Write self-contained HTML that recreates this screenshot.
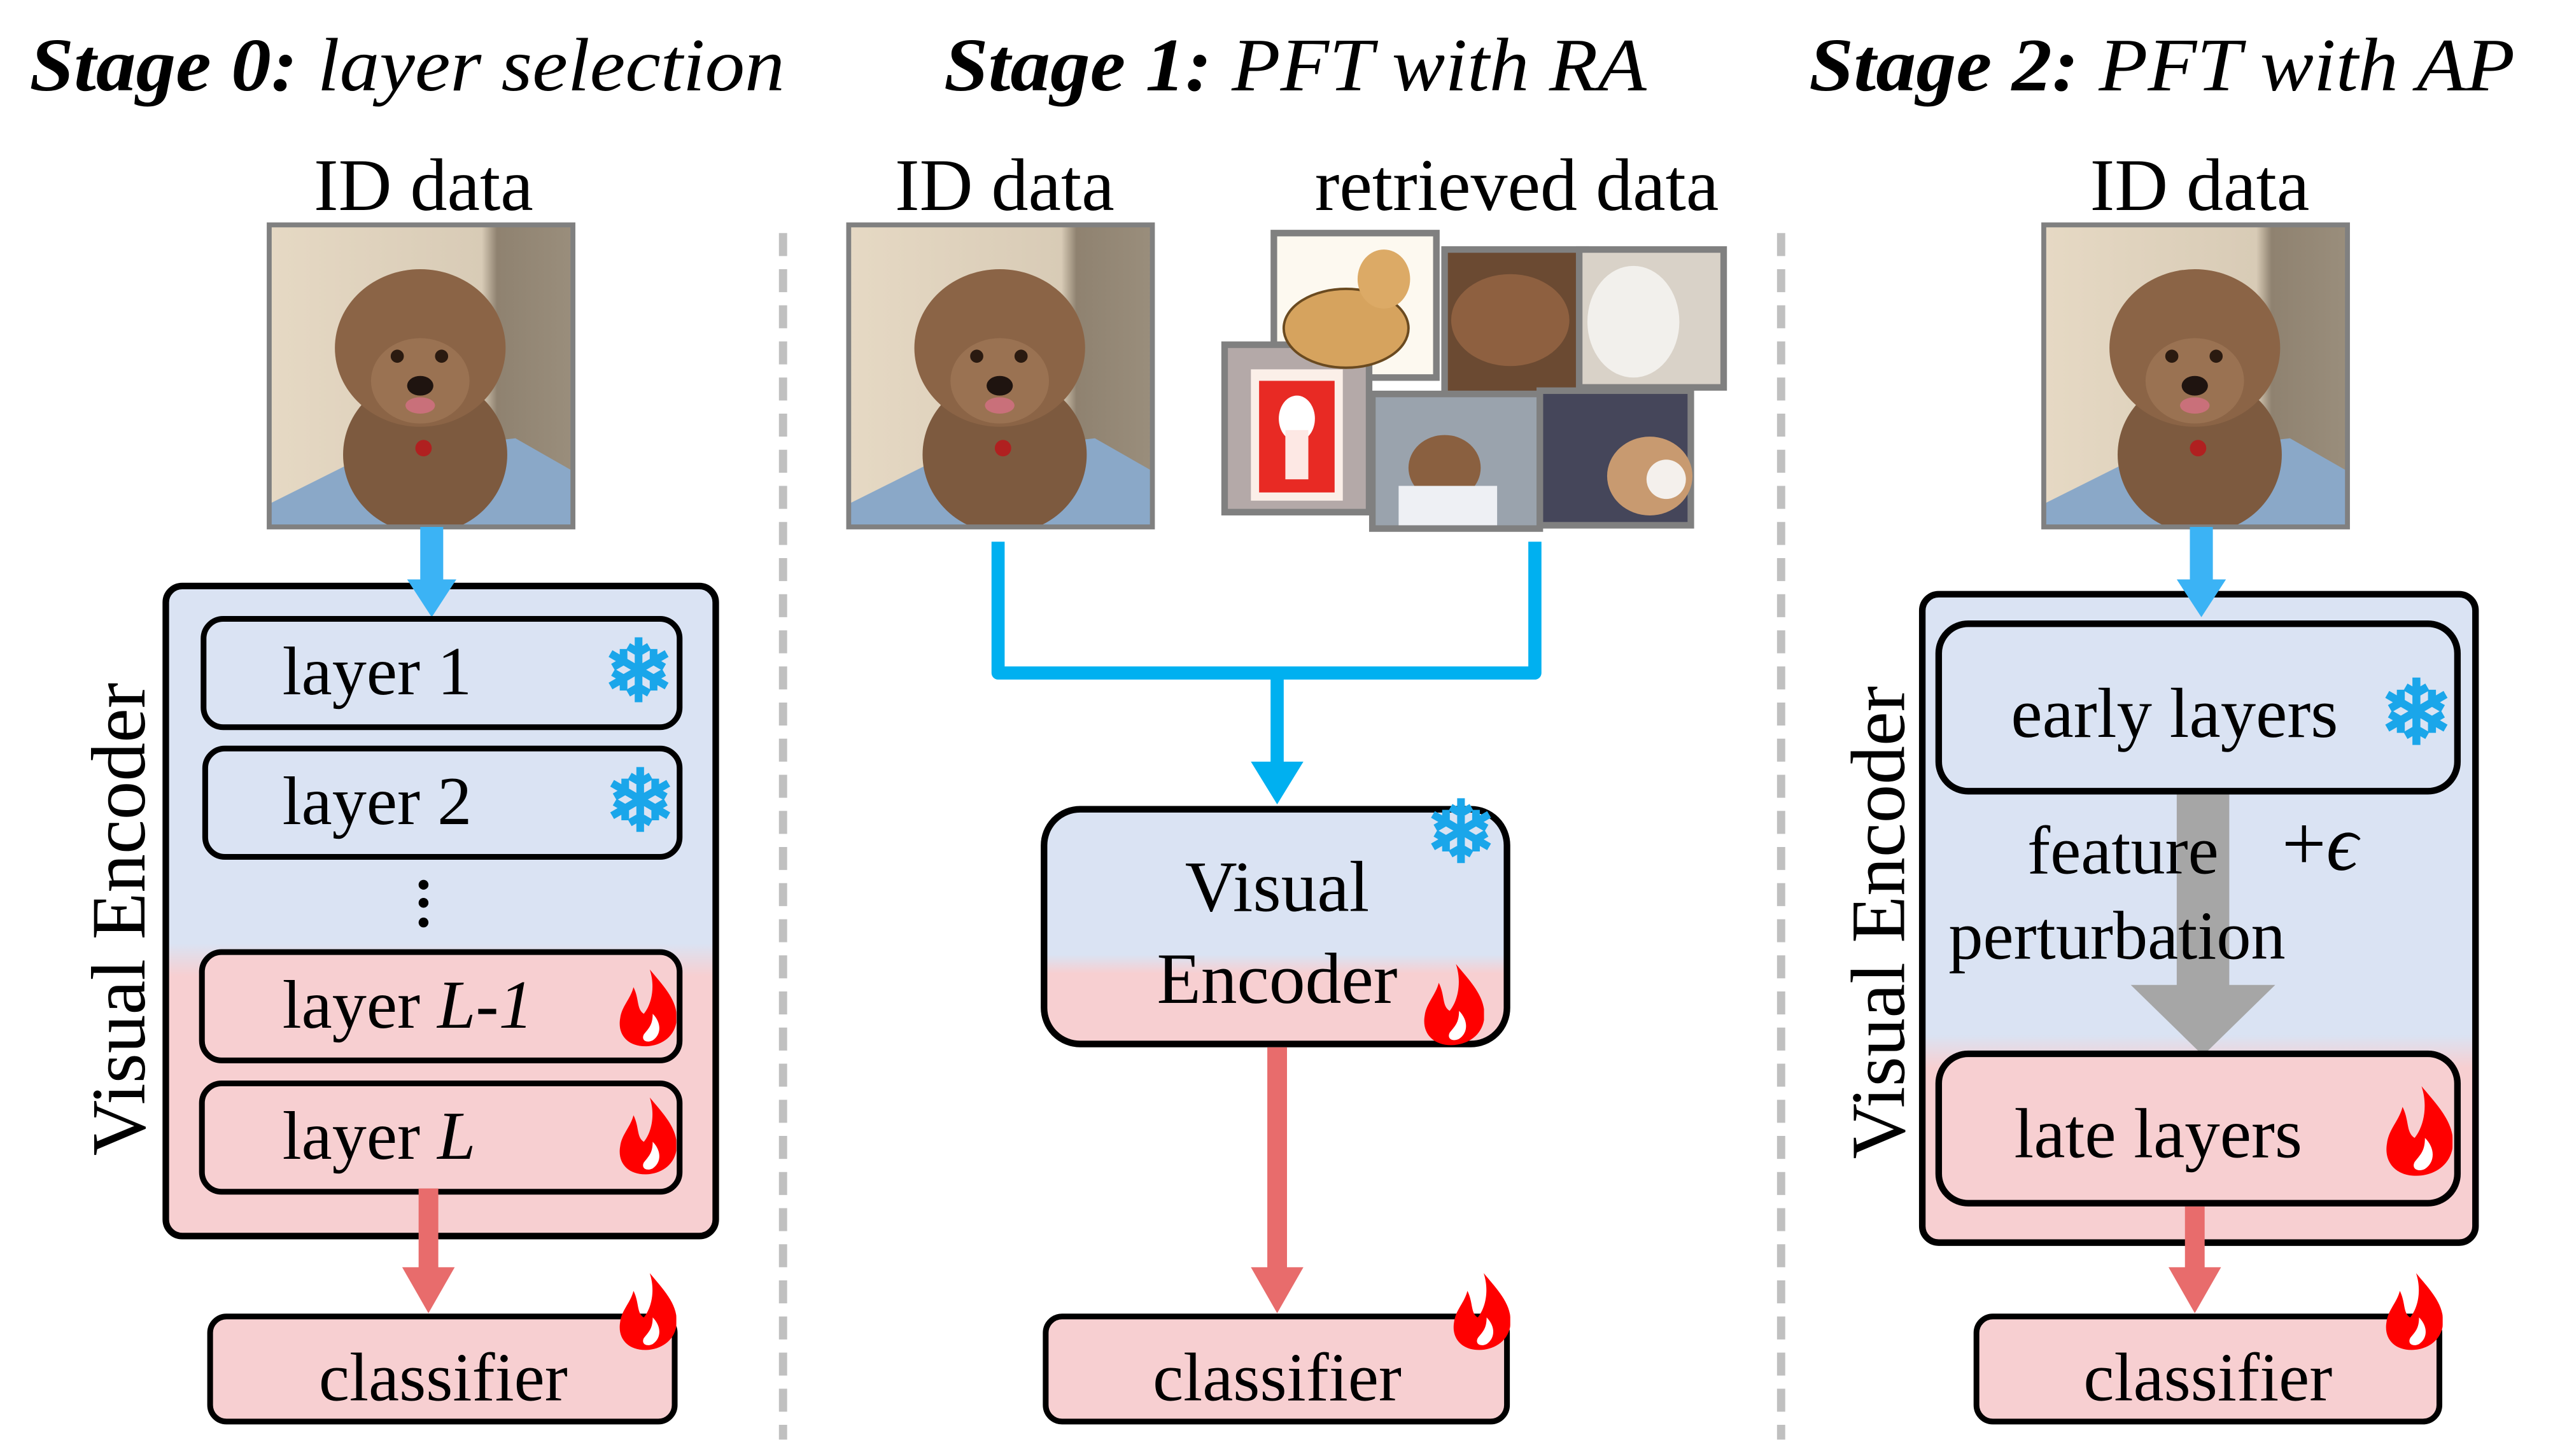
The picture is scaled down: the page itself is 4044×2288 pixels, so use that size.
<!DOCTYPE html>
<html><head><meta charset="utf-8"><style>
html,body{margin:0;padding:0;background:#fff}
svg{display:block}
text{font-family:"Liberation Serif",serif}
</style></head><body>
<svg width="4044" height="2288" viewBox="0 0 1568 887" preserveAspectRatio="none" xmlns="http://www.w3.org/2000/svg">
<defs>
<linearGradient id="enc" x1="0" y1="0" x2="0" y2="1">
<stop offset="0" stop-color="#dae3f3"/><stop offset="0.55" stop-color="#dae3f3"/><stop offset="0.6" stop-color="#f7cfd1"/><stop offset="1" stop-color="#f7cfd1"/></linearGradient>
<linearGradient id="enc2" x1="0" y1="0" x2="0" y2="1">
<stop offset="0" stop-color="#dae3f3"/><stop offset="0.62" stop-color="#dae3f3"/><stop offset="0.7" stop-color="#f7cfd1"/><stop offset="1" stop-color="#f7cfd1"/></linearGradient>
<linearGradient id="enc3" x1="0" y1="0" x2="0" y2="1">
<stop offset="0" stop-color="#dae3f3"/><stop offset="0.68" stop-color="#dae3f3"/><stop offset="0.73" stop-color="#f7cfd1"/><stop offset="1" stop-color="#f7cfd1"/></linearGradient>
<linearGradient id="bg" x1="0" y1="0" x2="1" y2="0">
<stop offset="0" stop-color="#e6d9c4"/><stop offset="0.7" stop-color="#d8cbb6"/><stop offset="0.75" stop-color="#8f8270"/><stop offset="1" stop-color="#9a8e7c"/></linearGradient>
<symbol id="dog" viewBox="0 0 185 184">
<rect width="185" height="184" fill="url(#bg)"/>
<polygon points="0,170 60,140 150,130 185,150 185,184 0,184" fill="#8aa8c8"/>
<ellipse cx="95" cy="140" rx="50" ry="48" fill="#7d5a3f"/>
<ellipse cx="92" cy="75" rx="52" ry="48" fill="#8b6446"/>
<ellipse cx="92" cy="95" rx="30" ry="26" fill="#9a7252"/>
<circle cx="78" cy="80" r="4" fill="#2a1a10"/><circle cx="105" cy="80" r="4" fill="#2a1a10"/>
<ellipse cx="92" cy="98" rx="8" ry="6" fill="#1f1410"/>
<ellipse cx="92" cy="110" rx="9" ry="5" fill="#c9707a"/>
<circle cx="94" cy="136" r="5" fill="#b02020"/>
</symbol>
<symbol id="flame" viewBox="0 0 40 52">
<path d="M22 0 C32 12 42 22 40 36 C38 47 28 52 19 52 C7 52 0 44 2 33 C3 25 9 20 11 12 C15 20 13 27 18 30 C23 24 26 12 22 0Z" fill="#ff0000"/>
<path d="M24 30 C30 36 30 44 24 48 C20 50 16 48 18 44 C21 40 24 38 24 30Z" fill="#fff"/>
</symbol>
</defs>

<text x="18" y="55" font-size="46" font-style="italic" textLength="460" lengthAdjust="spacingAndGlyphs"><tspan font-weight="bold">Stage 0:</tspan> layer selection</text>
<text x="575" y="55" font-size="46" font-style="italic" textLength="428" lengthAdjust="spacingAndGlyphs"><tspan font-weight="bold">Stage 1:</tspan> PFT with RA</text>
<text x="1102" y="55" font-size="46" font-style="italic" textLength="430" lengthAdjust="spacingAndGlyphs"><tspan font-weight="bold">Stage 2:</tspan> PFT with AP</text>

<line x1="477" y1="142" x2="477" y2="877" stroke="#c0c0c0" stroke-width="5" stroke-dasharray="14,8"/>
<line x1="1085" y1="142" x2="1085" y2="877" stroke="#c0c0c0" stroke-width="5" stroke-dasharray="14,8"/>

<!-- Stage 0 -->
<text x="258" y="128" font-size="45" text-anchor="middle">ID data</text>
<use href="#dog" x="164" y="137" width="185" height="184"/>
<rect x="164" y="137" width="185" height="184" fill="none" stroke="#808080" stroke-width="3"/>
<rect x="101" y="357" width="335" height="396" rx="10" fill="url(#enc)" stroke="#000" stroke-width="4"/>
<rect x="256" y="321" width="14" height="34" fill="#3bb3f5"/>
<polygon points="248,353 278,353 263,376" fill="#3bb3f5"/>
<text transform="translate(88,560) rotate(-90)" font-size="47" text-anchor="middle">Visual Encoder</text>
<rect x="124" y="377" width="290" height="66" rx="12" fill="#dae3f3" stroke="#000" stroke-width="3.5"/>
<text x="172" y="423" font-size="42">layer 1</text>
<text x="389" y="427" font-size="52" font-weight="bold" fill="#1aa6ea" text-anchor="middle" font-family="DejaVu Sans">❄</text>
<rect x="125" y="456" width="289" height="66" rx="12" fill="#dae3f3" stroke="#000" stroke-width="3.5"/>
<text x="172" y="502" font-size="42">layer 2</text>
<text x="390" y="506" font-size="52" font-weight="bold" fill="#1aa6ea" text-anchor="middle" font-family="DejaVu Sans">❄</text>
<circle cx="258" cy="539" r="3" fill="#000"/><circle cx="258" cy="550" r="3" fill="#000"/><circle cx="258" cy="562" r="3" fill="#000"/>
<rect x="123" y="580" width="291" height="66" rx="12" fill="#f7cfd1" stroke="#000" stroke-width="3.5"/>
<text x="172" y="626" font-size="42">layer <tspan font-style="italic">L</tspan>-<tspan font-style="italic">1</tspan></text>
<use href="#flame" x="376" y="590" width="36" height="48"/>
<rect x="123" y="660" width="291" height="66" rx="12" fill="#f7cfd1" stroke="#000" stroke-width="3.5"/>
<text x="172" y="706" font-size="42">layer <tspan font-style="italic">L</tspan></text>
<use href="#flame" x="376" y="668" width="36" height="48"/>
<rect x="255" y="724" width="12" height="50" fill="#e86c6c"/>
<polygon points="245,772 277,772 261,800" fill="#e86c6c"/>
<rect x="128" y="802" width="283" height="64" rx="10" fill="#f7cfd1" stroke="#000" stroke-width="3.5"/>
<text x="270" y="853" font-size="42" text-anchor="middle">classifier</text>
<use href="#flame" x="376" y="768" width="36" height="62"/>

<!-- Stage 1 -->
<text x="612" y="128" font-size="45" text-anchor="middle">ID data</text>
<text x="924" y="128" font-size="45" text-anchor="middle">retrieved data</text>
<use href="#dog" x="517" y="137" width="185" height="184"/>
<rect x="517" y="137" width="185" height="184" fill="none" stroke="#808080" stroke-width="3"/>
<g stroke="#808080" stroke-width="4">
<rect x="776" y="142" width="99" height="88" fill="#fdf9f0"/>
<rect x="880" y="152" width="86" height="88" fill="#6b4a32"/>
<rect x="962" y="152" width="88" height="84" fill="#d9d2c8"/>
<rect x="938" y="238" width="92" height="82" fill="#45465a"/>
<rect x="836" y="240" width="102" height="82" fill="#9aa3ad"/>
<rect x="746" y="210" width="88" height="102" fill="#b4a9a8"/>
</g>
<ellipse cx="820" cy="200" rx="38" ry="24" fill="#d6a35e" stroke="#6a4a20" stroke-width="1.5"/>
<ellipse cx="843" cy="170" rx="16" ry="18" fill="#dcaa66"/>
<ellipse cx="920" cy="195" rx="36" ry="28" fill="#8e6040"/>
<ellipse cx="995" cy="196" rx="28" ry="34" fill="#f2f0ec"/>
<rect x="762" y="225" width="56" height="80" fill="#fbefe8"/>
<rect x="767" y="232" width="46" height="68" fill="#e82a24"/>
<ellipse cx="790" cy="255" rx="11" ry="14" fill="#fff"/>
<rect x="783" y="262" width="14" height="30" fill="#fde8e4"/>
<ellipse cx="880" cy="285" rx="22" ry="20" fill="#8a6040"/>
<rect x="852" y="296" width="60" height="24" fill="#eef0f4"/>
<ellipse cx="1005" cy="290" rx="26" ry="24" fill="#c89a70"/>
<ellipse cx="1015" cy="292" rx="12" ry="12" fill="#f4f0ec"/>
<g fill="none" stroke="#00b0f0" stroke-width="8">
<polyline points="608,330 608,410 935,410 935,330" stroke-linejoin="round"/>
<line x1="778" y1="410" x2="778" y2="466"/>
</g>
<polygon points="762,464 794,464 778,490" fill="#00b0f0"/>
<rect x="636" y="493" width="282" height="143" rx="22" fill="url(#enc2)" stroke="#000" stroke-width="4"/>
<text x="778" y="555" font-size="44" text-anchor="middle">Visual</text>
<text x="778" y="611" font-size="44" text-anchor="middle">Encoder</text>
<text x="890" y="525" font-size="52" font-weight="bold" fill="#1aa6ea" text-anchor="middle" font-family="DejaVu Sans">❄</text>
<use href="#flame" x="866" y="585" width="38" height="54"/>
<rect x="772" y="638" width="12" height="136" fill="#e86c6c"/>
<polygon points="762,772 794,772 778,800" fill="#e86c6c"/>
<rect x="637" y="802" width="281" height="64" rx="10" fill="#f7cfd1" stroke="#000" stroke-width="3.5"/>
<text x="778" y="853" font-size="42" text-anchor="middle">classifier</text>
<use href="#flame" x="884" y="768" width="36" height="62"/>

<!-- Stage 2 -->
<text x="1340" y="128" font-size="45" text-anchor="middle">ID data</text>
<use href="#dog" x="1245" y="137" width="185" height="184"/>
<rect x="1245" y="137" width="185" height="184" fill="none" stroke="#808080" stroke-width="3"/>
<rect x="1171" y="362" width="337" height="395" rx="10" fill="url(#enc3)" stroke="#000" stroke-width="4"/>
<rect x="1334" y="321" width="14" height="34" fill="#3bb3f5"/>
<polygon points="1326,353 1356,353 1341,376" fill="#3bb3f5"/>
<text transform="translate(1160,562) rotate(-90)" font-size="47" text-anchor="middle">Visual Encoder</text>
<rect x="1181" y="380" width="316" height="102" rx="18" fill="#dae3f3" stroke="#000" stroke-width="4"/>
<text x="1225" y="449" font-size="43">early layers</text>
<text x="1472" y="453" font-size="54" font-weight="bold" fill="#1aa6ea" text-anchor="middle" font-family="DejaVu Sans">❄</text>
<rect x="1326" y="484" width="32" height="118" fill="#a6a6a6"/>
<polygon points="1298,600 1386,600 1342,643" fill="#a6a6a6"/>
<text x="1235" y="532" font-size="42">feature</text>
<text x="1390" y="530" font-size="48">+<tspan font-style="italic">ϵ</tspan></text>
<text x="1187" y="584" font-size="42">perturbation</text>
<rect x="1181" y="642" width="316" height="91" rx="18" fill="#f7cfd1" stroke="#000" stroke-width="4"/>
<text x="1227" y="705" font-size="43">late layers</text>
<use href="#flame" x="1452" y="648" width="42" height="82"/>
<rect x="1331" y="735" width="12" height="40" fill="#e86c6c"/>
<polygon points="1321,772 1353,772 1337,800" fill="#e86c6c"/>
<rect x="1204" y="802" width="282" height="64" rx="10" fill="#f7cfd1" stroke="#000" stroke-width="3.5"/>
<text x="1345" y="853" font-size="42" text-anchor="middle">classifier</text>
<use href="#flame" x="1452" y="768" width="36" height="62"/>
</svg>
</body></html>
